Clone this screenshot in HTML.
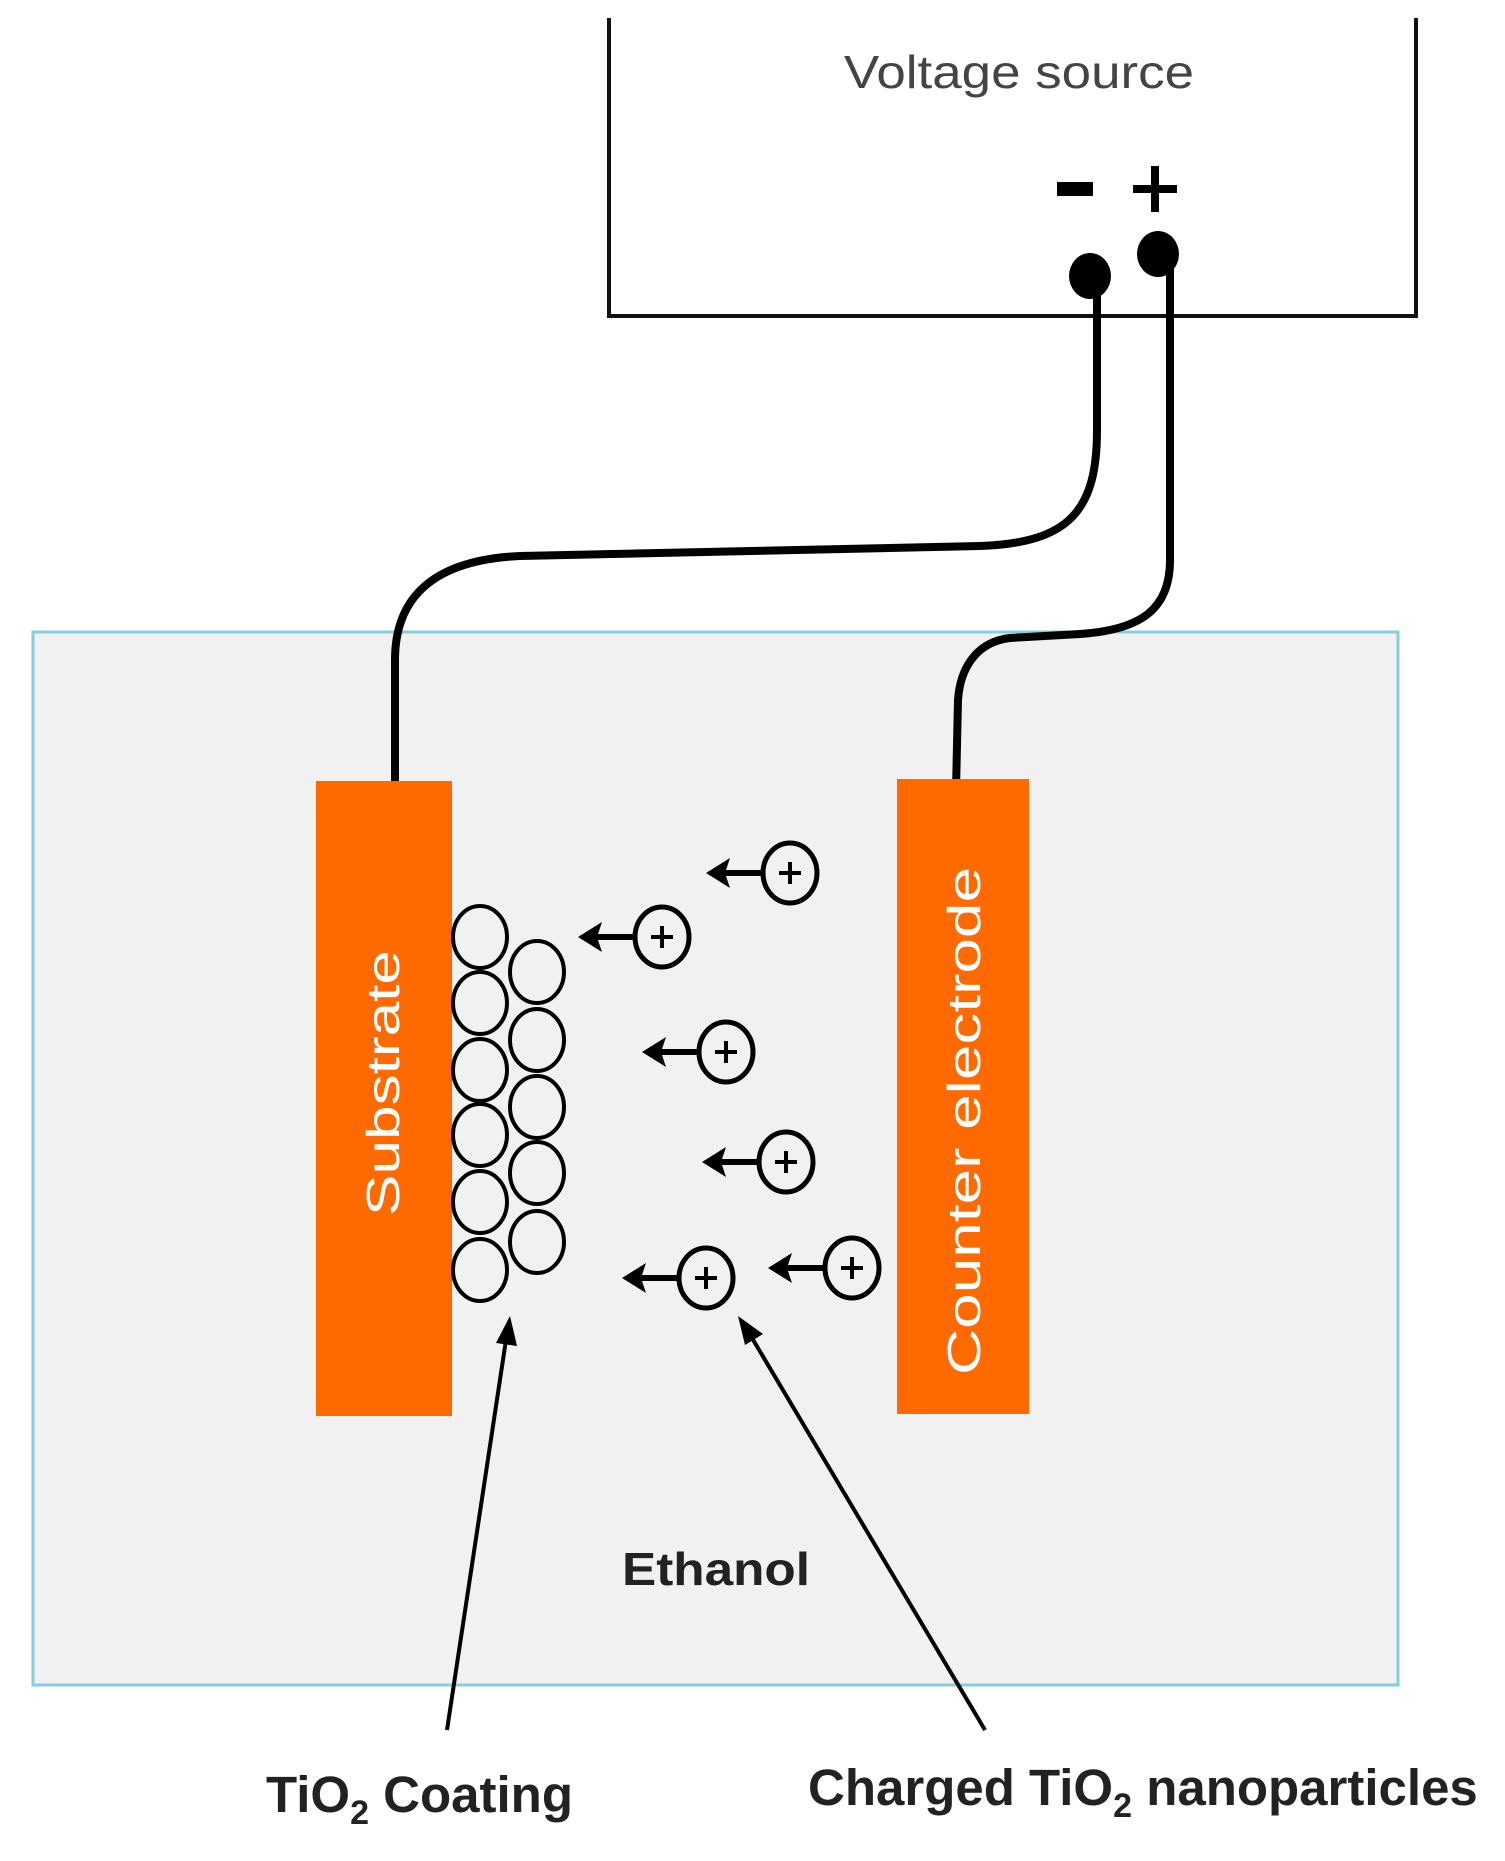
<!DOCTYPE html>
<html><head><meta charset="utf-8"><style>
html,body{margin:0;padding:0;background:#fff;}
svg{display:block;}
text{font-family:"Liberation Sans",sans-serif;}
</style></head><body>
<svg width="1505" height="1861" viewBox="0 0 1505 1861" xmlns="http://www.w3.org/2000/svg">
<!-- voltage source box -->
<path d="M609,18 L609,316 L1416,316 L1416,18" fill="none" stroke="#111" stroke-width="4"/>
<text x="1019" y="88" font-size="46" fill="#444" text-anchor="middle" textLength="350" lengthAdjust="spacingAndGlyphs">Voltage source</text>
<rect x="1057" y="182" width="36" height="14" fill="#000"/>
<rect x="1133" y="185" width="44" height="8" fill="#000"/>
<rect x="1151" y="166" width="8" height="46" fill="#000"/>
<!-- tank -->
<rect x="33" y="632" width="1365" height="1053" fill="#f1f1f1" stroke="#86cde0" stroke-width="3"/>
<!-- wires -->
<path d="M1097,280 L1097,430 C1097,510 1070,543 980,546 L520,556 C430,560 395,600 395,660 L395,790" fill="none" stroke="#000" stroke-width="8"/>
<path d="M1170,260 L1170,560 C1170,610 1140,630 1080,634 L1010,638 C975,642 960,670 958,700 L956,790" fill="none" stroke="#000" stroke-width="8"/>
<ellipse cx="1090" cy="276" rx="21" ry="23" fill="#000"/>
<ellipse cx="1158" cy="254" rx="21" ry="23" fill="#000"/>
<!-- electrodes -->
<rect x="316" y="781" width="136" height="635" fill="#ff6a00"/>
<rect x="897" y="779" width="132" height="635" fill="#ff6a00"/>
<text transform="translate(399,1083) rotate(-90)" font-size="46" fill="#fff" text-anchor="middle" textLength="266" lengthAdjust="spacingAndGlyphs">Substrate</text>
<text transform="translate(980,1121) rotate(-90)" font-size="46" fill="#fff" text-anchor="middle" textLength="508" lengthAdjust="spacingAndGlyphs">Counter electrode</text>
<!-- coating -->
<g fill="none" stroke="#000" stroke-width="4">
<ellipse cx="480" cy="937" rx="27" ry="31"/>
<ellipse cx="480" cy="1003" rx="27" ry="31"/>
<ellipse cx="480" cy="1070" rx="27" ry="31"/>
<ellipse cx="480" cy="1135" rx="27" ry="31"/>
<ellipse cx="480" cy="1202" rx="27" ry="31"/>
<ellipse cx="480" cy="1270" rx="27" ry="31"/>
<ellipse cx="537" cy="972" rx="27" ry="31"/>
<ellipse cx="537" cy="1040" rx="27" ry="31"/>
<ellipse cx="537" cy="1107" rx="27" ry="31"/>
<ellipse cx="537" cy="1173" rx="27" ry="31"/>
<ellipse cx="537" cy="1242" rx="27" ry="31"/>
</g>
<!-- particles -->
<g stroke="#000" fill="none">
<g transform="translate(790,873)"><ellipse rx="27" ry="30" stroke-width="5"/><path d="M-11,0 H11 M0,-11 V11" stroke-width="4"/><path d="M-27,0 H-72" stroke-width="6"/><path d="M-84,0 L-60,-15 L-65,0 L-60,15 Z" fill="#000" stroke="none"/></g>
<g transform="translate(662,937)"><ellipse rx="27" ry="30" stroke-width="5"/><path d="M-11,0 H11 M0,-11 V11" stroke-width="4"/><path d="M-27,0 H-72" stroke-width="6"/><path d="M-84,0 L-60,-15 L-65,0 L-60,15 Z" fill="#000" stroke="none"/></g>
<g transform="translate(726,1052)"><ellipse rx="27" ry="30" stroke-width="5"/><path d="M-11,0 H11 M0,-11 V11" stroke-width="4"/><path d="M-27,0 H-72" stroke-width="6"/><path d="M-84,0 L-60,-15 L-65,0 L-60,15 Z" fill="#000" stroke="none"/></g>
<g transform="translate(786,1162)"><ellipse rx="27" ry="30" stroke-width="5"/><path d="M-11,0 H11 M0,-11 V11" stroke-width="4"/><path d="M-27,0 H-72" stroke-width="6"/><path d="M-84,0 L-60,-15 L-65,0 L-60,15 Z" fill="#000" stroke="none"/></g>
<g transform="translate(706,1278)"><ellipse rx="27" ry="30" stroke-width="5"/><path d="M-11,0 H11 M0,-11 V11" stroke-width="4"/><path d="M-27,0 H-72" stroke-width="6"/><path d="M-84,0 L-60,-15 L-65,0 L-60,15 Z" fill="#000" stroke="none"/></g>
<g transform="translate(852,1268)"><ellipse rx="27" ry="30" stroke-width="5"/><path d="M-11,0 H11 M0,-11 V11" stroke-width="4"/><path d="M-27,0 H-72" stroke-width="6"/><path d="M-84,0 L-60,-15 L-65,0 L-60,15 Z" fill="#000" stroke="none"/></g>
</g>
<text x="716" y="1585" font-size="46" font-weight="bold" fill="#222" text-anchor="middle" textLength="188" lengthAdjust="spacingAndGlyphs">Ethanol</text>
<!-- pointers -->
<path d="M447,1730 L506,1340" stroke="#000" stroke-width="4"/>
<path d="M510,1316 L517,1346 L496,1343 Z" fill="#000"/>
<path d="M985,1730 L752,1338" stroke="#000" stroke-width="4"/>
<path d="M738,1316 L763,1334 L745,1345 Z" fill="#000"/>
<text x="266" y="1812" font-size="51" font-weight="bold" fill="#222">TiO<tspan font-size="34" dy="12">2</tspan><tspan dy="-12"> Coating</tspan></text>
<text x="808" y="1805" font-size="51" font-weight="bold" fill="#222">Charged TiO<tspan font-size="34" dy="12">2</tspan><tspan dy="-12"> nanoparticles</tspan></text>
</svg>
</body></html>
